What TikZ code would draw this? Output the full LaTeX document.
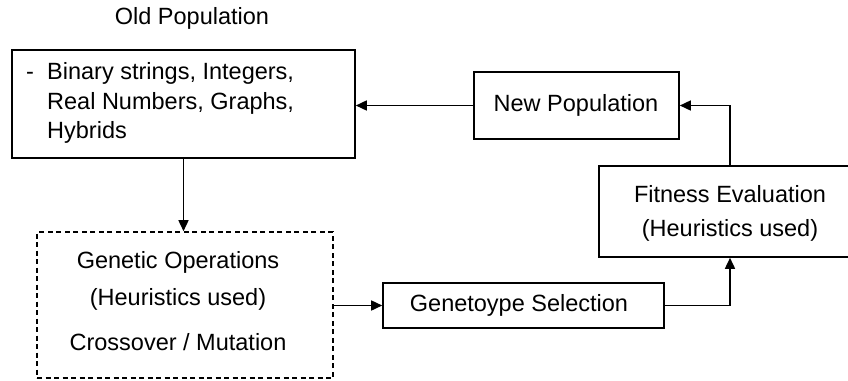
\documentclass[tikz,border=0pt]{standalone}
\usepackage{fontspec}
\setmainfont{Liberation Sans}
\usetikzlibrary{arrows.meta}
\begin{document}
\begin{tikzpicture}[x=1pt,y=-1pt,
  every node/.style={font=\fontsize{23.5}{34}\selectfont, inner sep=0pt},
  box/.style={draw, line width=1.6pt},
  dashbox/.style={draw, line width=1.6pt, dash pattern=on 5pt off 3.5pt},
  arr/.style={line width=1.6pt, -{Triangle[length=11pt,width=10pt]}}]
\useasboundingbox (0,0) rectangle (848,380);

% boxes
\node[box, minimum width=343pt, minimum height=108pt] (op) at (183.5,104) {};
\node[dashbox, minimum width=296pt, minimum height=146pt] (go) at (185,305) {};
\node[box, minimum width=281pt, minimum height=45pt] (gs) at (523.5,305.5) {};
\node[box, minimum width=262pt, minimum height=91pt] (fit) at (730,211.5) {};
\node[box, minimum width=205pt, minimum height=67pt] (np) at (576.5,105.5) {};

% labels
\node (optitle) at (192,18) {Old Population};
\node[anchor=west, align=left, font=\fontsize{23.5}{29.5}\selectfont] (optext) at (26,103)
  {\makebox[21pt][l]{-}Binary strings, Integers,\\
   \hspace*{21pt}Real Numbers, Graphs,\\
   \hspace*{21pt}Hybrids};
\node[align=center] (gotext) at (178,301)
  {Genetic Operations\\[3pt](Heuristics used)\\[11pt]Crossover / Mutation};
\node (gstext) at (519,305) {Genetoype Selection};
\node[align=center] (fittext) at (730,213) {Fitness Evaluation\\(Heuristics used)};
\node (nptext) at (576,105) {New Population};

% connectors
\draw[arr] (np.west) -- (np.west -| op.east);
\draw[arr] (op.south) -- (op.south |- go.north);
\draw[arr] (go.east |- gs.west) -- (gs.west);
\draw[arr] (gs.east) -| (fit.south);
\draw[arr] (fit.north) |- (np.east);
\end{tikzpicture}
\end{document}
